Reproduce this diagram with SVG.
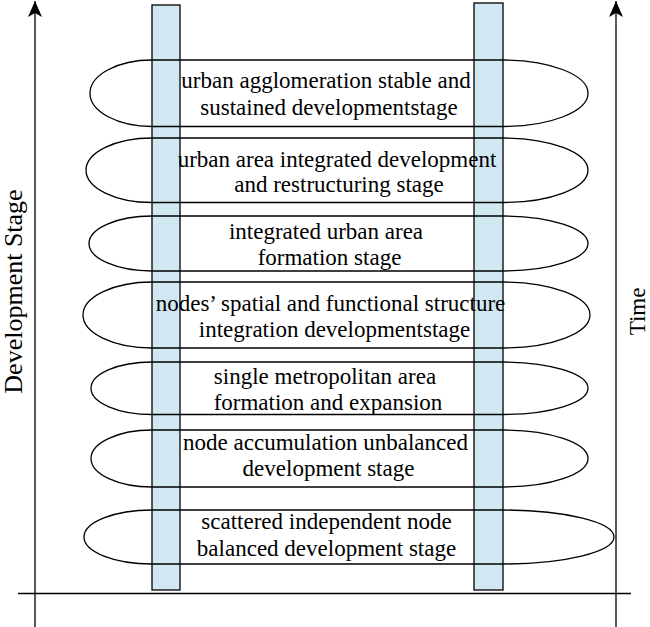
<svg xmlns="http://www.w3.org/2000/svg" width="650" height="627" viewBox="0 0 650 627">
<style>
.ax{stroke:#000;stroke-width:1.3;fill:none}
.col{fill:#d1e7f1;stroke:#000;stroke-width:1.3}
.ell{fill:none;stroke:#000;stroke-width:1.3}
text{font-family:"Liberation Serif","DejaVu Serif","Times New Roman",serif;fill:#000;text-anchor:middle}
.t{font-size:23px}
</style>
<defs>
<marker id="arr" markerUnits="userSpaceOnUse" viewBox="-16 -8 17 16" refX="0" refY="0" markerWidth="17" markerHeight="16" orient="auto">
<path d="M0,0 L-16,-7 L-12,0 L-16,7 Z" fill="#000"/>
</marker>
</defs>
<rect width="650" height="627" fill="#fff"/>
<g id="connectors">
<line class="ax" x1="35" y1="627" x2="35" y2="1" marker-end="url(#arr)"/>
<line class="ax" x1="616" y1="627" x2="616" y2="1" marker-end="url(#arr)"/>
<line class="ax" x1="18" y1="593.5" x2="631" y2="593.5"/>
</g>
<g id="columns">
<rect id="col-left" class="col" x="152" y="5" width="28" height="585"/>
<rect id="col-right" class="col" x="474" y="3" width="29" height="587"/>
</g>
<g id="axis-labels">
<text id="label-development-stage" font-size="26" transform="translate(22,291.5) rotate(-90)">Development Stage</text>
<text id="label-time" font-size="23" transform="translate(645,311.5) rotate(-90)">Time</text>
</g>
<g id="node-1">
<path class="ell" d="M152,60 H503 A85,33.25 0 0 1 503,126.5 H152 A62,33.25 0 0 1 152,60 Z"/>
<text class="t" x="326" y="88">urban agglomeration stable and</text>
<text class="t" x="329" y="115">sustained developmentstage</text>
</g>
<g id="node-2">
<path class="ell" d="M152,138 H503 A85,32.25 0 0 1 503,202.5 H152 A66,32.25 0 0 1 152,138 Z"/>
<text class="t" x="337" y="166.5">urban area integrated development</text>
<text class="t" x="339" y="192">and restructuring stage</text>
</g>
<g id="node-3">
<path class="ell" d="M152,216 H503 A85,27.5 0 0 1 503,271 H152 A63,27.5 0 0 1 152,216 Z"/>
<text class="t" x="326" y="239">integrated urban area</text>
<text class="t" x="329.5" y="265">formation stage</text>
</g>
<g id="node-4">
<path class="ell" d="M152,282 H503 A87,33 0 0 1 503,348 H152 A69,33 0 0 1 152,282 Z"/>
<text class="t" x="330.5" y="311">nodes’ spatial and functional structure</text>
<text class="t" x="334.5" y="337">integration developmentstage</text>
</g>
<g id="node-5">
<path class="ell" d="M152,362 H503 A85,26.25 0 0 1 503,414.5 H152 A61,26.25 0 0 1 152,362 Z"/>
<text class="t" x="325" y="384">single metropolitan area</text>
<text class="t" x="328" y="410">formation and expansion</text>
</g>
<g id="node-6">
<path class="ell" d="M152,430 H503 A85,28.5 0 0 1 503,487 H152 A61,28.5 0 0 1 152,430 Z"/>
<text class="t" x="325.5" y="450">node accumulation unbalanced</text>
<text class="t" x="328.5" y="476">development stage</text>
</g>
<g id="node-7">
<path class="ell" d="M152,510 H503 A111,27 0 0 1 503,564 H152 A68,27 0 0 1 152,510 Z"/>
<text class="t" x="326.5" y="529">scattered independent node</text>
<text class="t" x="326.5" y="556">balanced development stage</text>
</g>
</svg>
